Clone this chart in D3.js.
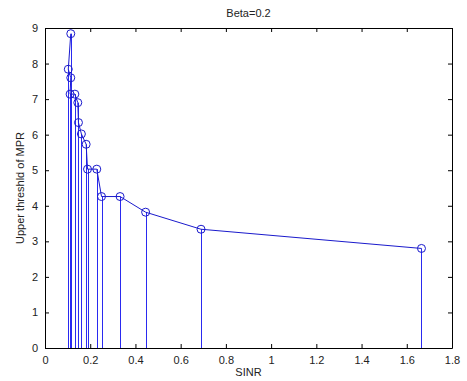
<!DOCTYPE html>
<html>
<head>
<meta charset="utf-8">
<script src="https://cdn.jsdelivr.net/npm/d3@7"></script>
<style>
  body { margin: 0; background: #fff; }
  svg text { font-family: Arial, "Liberation Sans", sans-serif; font-size: 11px; fill: #222; }
</style>
</head>
<body>
<div id="chart"></div>
<script>
// values (in plotting order)
const sinr = [0.114, 0.103, 0.114, 0.111, 0.132, 0.145, 0.148, 0.161, 0.182, 0.188, 0.229, 0.250, 0.332, 0.445, 0.690, 1.665];
const mpr  = [8.84, 7.84, 7.60, 7.14, 7.14, 6.90, 6.34, 6.02, 5.73, 5.03, 5.03, 4.26, 4.26, 3.82, 3.34, 2.80];
const xTicks = [0, 0.2, 0.4, 0.6, 0.8, 1, 1.2, 1.4, 1.6, 1.8];
const yTicks = [0, 1, 2, 3, 4, 5, 6, 7, 8, 9];

const W = 467, H = 381;
const margin = { top: 28, right: 15, bottom: 33, left: 45 };
const width = W - margin.left - margin.right;
const height = H - margin.top - margin.bottom;

const svg = d3.select('#chart').append('svg')
  .attr('width', W)
  .attr('height', H);

const g = svg.append('g')
  .attr('transform', `translate(${margin.left},${margin.top})`);

const x = d3.scaleLinear().domain([0, 1.8]).range([0, width]);
const y = d3.scaleLinear().domain([0, 9]).range([height, 0]);

const pts = sinr.map((s, i) => ({ x: s, y: mpr[i] }));

// stems
g.selectAll('line.stem')
  .data(pts)
  .enter().append('line')
  .attr('class', 'stem')
  .attr('x1', d => Math.round(x(d.x)) + 0.5).attr('x2', d => Math.round(x(d.x)) + 0.5)
  .attr('y1', y(0)).attr('y2', d => y(d.y))
  .style('stroke', '#2a2af0')
  .style('stroke-width', 1);

// connecting line
g.append('path')
  .datum(pts)
  .attr('d', d3.line().x(d => x(d.x)).y(d => y(d.y)))
  .style('fill', 'none')
  .style('stroke', '#1a1acc')
  .style('stroke-width', 1);

// markers
g.selectAll('circle')
  .data(pts)
  .enter().append('circle')
  .attr('cx', d => x(d.x))
  .attr('cy', d => y(d.y))
  .attr('r', 4)
  .style('fill', 'none')
  .style('stroke', '#1a1acc')
  .style('stroke-width', 1);

// axes: MATLAB style box with inward ticks
const tick = 4;
const xb = g.append('g').attr('transform', `translate(0,${height})`)
  .call(d3.axisBottom(x).tickValues(xTicks).tickSizeInner(-tick).tickSizeOuter(0).tickPadding(8).tickFormat(d3.format('~g')));
const xt = g.append('g')
  .call(d3.axisTop(x).tickValues(xTicks).tickSizeInner(-tick).tickSizeOuter(0).tickFormat(''));
const yl = g.append('g')
  .call(d3.axisLeft(y).tickValues(yTicks).tickSizeInner(-tick).tickSizeOuter(0).tickPadding(7));
const yr = g.append('g').attr('transform', `translate(${width},0)`)
  .call(d3.axisRight(y).tickValues(yTicks).tickSizeInner(-tick).tickSizeOuter(0).tickFormat(''));

[xb, xt, yl, yr].forEach(a => {
  a.selectAll('path').style('stroke', '#000');
  a.selectAll('line').style('stroke', '#000');
  a.selectAll('text').style('font-size', '11px').style('fill', '#222');
});

// title and labels
svg.append('text')
  .attr('x', margin.left + width / 2)
  .attr('y', 17)
  .attr('text-anchor', 'middle')
  .text('Beta=0.2');

svg.append('text')
  .attr('x', margin.left + width / 2)
  .attr('y', 376)
  .attr('text-anchor', 'middle')
  .text('SINR');

svg.append('text')
  .attr('transform', `translate(24,${margin.top + height / 2}) rotate(-90)`)
  .attr('text-anchor', 'middle')
  .text('Upper threshld of MPR');
</script>
</body>
</html>
